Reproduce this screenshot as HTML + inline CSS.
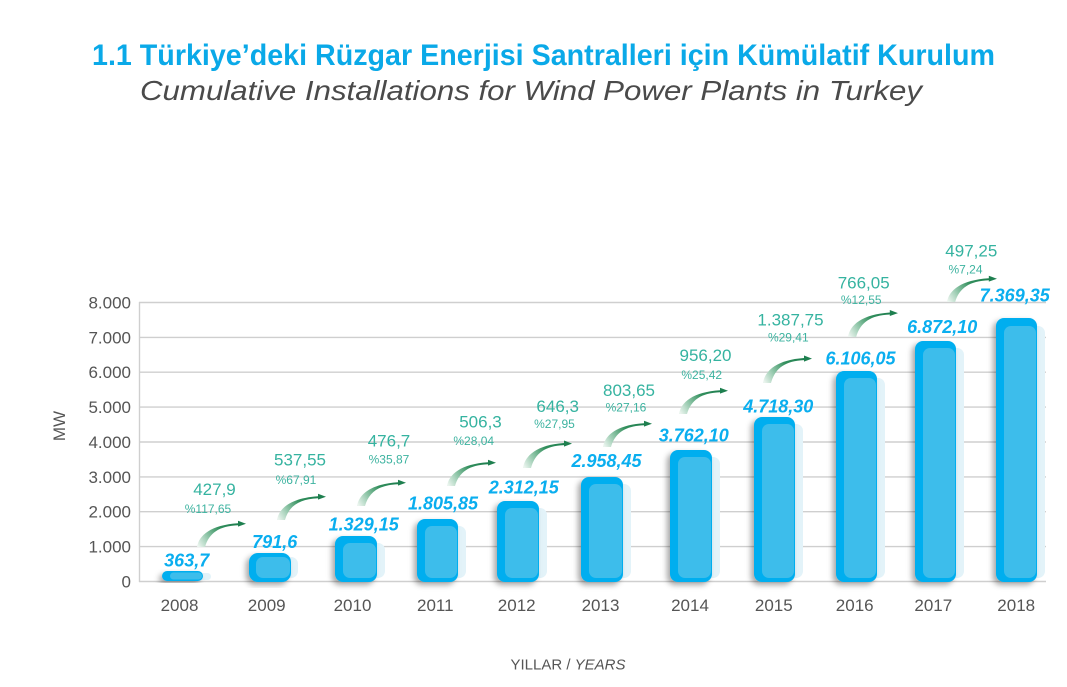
<!DOCTYPE html>
<html><head><meta charset="utf-8"><style>
html,body{margin:0;padding:0;background:#fff;}
svg{display:block;}
text{font-family:"Liberation Sans",sans-serif;}
</style></head><body>
<svg width="1067" height="687" viewBox="0 0 1067 687" xmlns="http://www.w3.org/2000/svg">
<defs>
<filter id="sh" x="-40%" y="-20%" width="160%" height="140%">
<feDropShadow dx="-3" dy="3" stdDeviation="3" flood-color="#000" flood-opacity="0.35"/>
</filter>
<linearGradient id="ag" gradientUnits="userSpaceOnUse" x1="2" y1="0" x2="40" y2="-24">
<stop offset="0" stop-color="#eaf4ee"/>
<stop offset="0.3" stop-color="#8cc4a6"/>
<stop offset="0.6" stop-color="#34905e"/>
<stop offset="1" stop-color="#1e7f4f"/>
</linearGradient>
<path id="arr" d="M0,0 C2,-12 14,-22 41,-23.8 L41,-26.2 L49,-23.2 L41,-20.4 L41,-21.8 C22,-21 12,-14 8,0 Z" fill="url(#ag)"/>
</defs>

<!-- Titles -->
<text x="92" y="65" font-size="30" font-weight="bold" fill="#0aa9e8" textLength="903" lengthAdjust="spacingAndGlyphs">1.1 Türkiye’deki Rüzgar Enerjisi Santralleri için Kümülatif Kurulum</text>
<text x="140" y="100" font-size="28" font-style="italic" fill="#4a4a4a" textLength="782" lengthAdjust="spacingAndGlyphs">Cumulative Installations for Wind Power Plants in Turkey</text>

<!-- Grid -->
<g stroke="#cfcfcf" stroke-width="1.4">
<line x1="139" y1="302.5" x2="1046" y2="302.5"/>
<line x1="139" y1="337.4" x2="1046" y2="337.4"/>
<line x1="139" y1="372.2" x2="1046" y2="372.2"/>
<line x1="139" y1="407.1" x2="1046" y2="407.1"/>
<line x1="139" y1="442" x2="1046" y2="442"/>
<line x1="139" y1="476.9" x2="1046" y2="476.9"/>
<line x1="139" y1="511.7" x2="1046" y2="511.7"/>
<line x1="139" y1="546.6" x2="1046" y2="546.6"/>
<line x1="139" y1="581.5" x2="1046" y2="581.5"/>
<line x1="139.5" y1="302" x2="139.5" y2="582"/>
</g>

<!-- Y labels -->
<g font-size="17" fill="#555" text-anchor="end">
<text x="131" y="308.5">8.000</text>
<text x="131" y="343.4">7.000</text>
<text x="131" y="378.2">6.000</text>
<text x="131" y="413.1">5.000</text>
<text x="131" y="448">4.000</text>
<text x="131" y="482.9">3.000</text>
<text x="131" y="517.7">2.000</text>
<text x="131" y="552.6">1.000</text>
<text x="131" y="587.5">0</text>
</g>
<text x="71" y="432" font-size="17" fill="#555" text-anchor="middle" transform="rotate(-90 65 432)">MW</text>

<!-- Bars -->
<g>
<!-- 2008 -->
<rect x="170" y="573" width="41" height="7" rx="3.5" fill="#e3f3f9"/>
<rect x="162" y="571" width="41" height="10" rx="5" fill="#00aeef" filter="url(#sh)"/>
<rect x="170" y="572.5" width="32" height="7" rx="3.5" fill="#3dbdeb"/>
<!-- 2009 -->
<rect x="256" y="557" width="42" height="21" rx="7" fill="#e3f3f9"/>
<rect x="249" y="553" width="42" height="29" rx="9" fill="#00aeef" filter="url(#sh)"/>
<rect x="256" y="557" width="34" height="21" rx="7" fill="#3dbdeb"/>
<!-- 2010 -->
<rect x="343" y="543" width="42" height="35" rx="7" fill="#e3f3f9"/>
<rect x="335" y="536" width="42" height="46" rx="8" fill="#00aeef" filter="url(#sh)"/>
<rect x="343" y="543" width="33" height="35" rx="7" fill="#3dbdeb"/>
<!-- 2011 -->
<rect x="425" y="526" width="41" height="52" rx="7" fill="#e3f3f9"/>
<rect x="417" y="519" width="41" height="63" rx="8" fill="#00aeef" filter="url(#sh)"/>
<rect x="425" y="526" width="32" height="52" rx="7" fill="#3dbdeb"/>
<!-- 2012 -->
<rect x="505" y="508" width="42" height="70" rx="7" fill="#e3f3f9"/>
<rect x="497" y="501" width="42" height="81" rx="8" fill="#00aeef" filter="url(#sh)"/>
<rect x="505" y="508" width="33" height="70" rx="7" fill="#3dbdeb"/>
<!-- 2013 -->
<rect x="589" y="484" width="42" height="94" rx="7" fill="#e3f3f9"/>
<rect x="581" y="477" width="42" height="105" rx="8" fill="#00aeef" filter="url(#sh)"/>
<rect x="589" y="484" width="33" height="94" rx="7" fill="#3dbdeb"/>
<!-- 2014 -->
<rect x="678" y="457" width="42" height="121" rx="7" fill="#e3f3f9"/>
<rect x="670" y="450" width="42" height="132" rx="8" fill="#00aeef" filter="url(#sh)"/>
<rect x="678" y="457" width="33" height="121" rx="7" fill="#3dbdeb"/>
<!-- 2015 -->
<rect x="762" y="424" width="41" height="154" rx="7" fill="#e3f3f9"/>
<rect x="754" y="417" width="41" height="165" rx="8" fill="#00aeef" filter="url(#sh)"/>
<rect x="762" y="424" width="32" height="154" rx="7" fill="#3dbdeb"/>
<!-- 2016 -->
<rect x="844" y="378" width="41" height="200" rx="7" fill="#e3f3f9"/>
<rect x="836" y="371" width="41" height="211" rx="8" fill="#00aeef" filter="url(#sh)"/>
<rect x="844" y="378" width="32" height="200" rx="7" fill="#3dbdeb"/>
<!-- 2017 -->
<rect x="923" y="348" width="41" height="230" rx="7" fill="#e3f3f9"/>
<rect x="915" y="341" width="41" height="241" rx="8" fill="#00aeef" filter="url(#sh)"/>
<rect x="923" y="348" width="32" height="230" rx="7" fill="#3dbdeb"/>
<!-- 2018 -->
<rect x="1004" y="326" width="41" height="252" rx="7" fill="#e3f3f9"/>
<rect x="996" y="318" width="41" height="264" rx="8" fill="#00aeef" filter="url(#sh)"/>
<rect x="1004" y="326" width="32" height="252" rx="7" fill="#3dbdeb"/>
</g>

<!-- Arrows -->
<use href="#arr" transform="translate(197,547)"/>
<use href="#arr" transform="translate(277,520)"/>
<use href="#arr" transform="translate(357,506)"/>
<use href="#arr" transform="translate(447,486)"/>
<use href="#arr" transform="translate(523,468) scale(1,1.05)"/>
<use href="#arr" transform="translate(603,447)"/>
<use href="#arr" transform="translate(679,414)"/>
<use href="#arr" transform="translate(763,383) scale(1,1.05)"/>
<use href="#arr" transform="translate(848,337) scale(1.02,1.03)"/>
<use href="#arr" transform="translate(947,302) scale(1.02,1)"/>

<!-- Increment labels -->
<g font-size="17" fill="#35b3a0" text-anchor="middle">
<text x="214.5" y="495">427,9</text>
<text x="300" y="465.5">537,55</text>
<text x="389" y="446.7">476,7</text>
<text x="480.5" y="427.7">506,3</text>
<text x="557.7" y="412">646,3</text>
<text x="629" y="396">803,65</text>
<text x="705.5" y="361">956,20</text>
<text x="790.5" y="325.3">1.387,75</text>
<text x="863.7" y="288.7">766,05</text>
<text x="971.3" y="256.7">497,25</text>
</g>
<g font-size="12" fill="#3db3a0" text-anchor="middle">
<text x="208" y="513.2">%117,65</text>
<text x="296" y="484.2">%67,91</text>
<text x="389" y="463.5">%35,87</text>
<text x="473.7" y="444.9">%28,04</text>
<text x="554.5" y="428.2">%27,95</text>
<text x="626" y="411.5">%27,16</text>
<text x="701.7" y="379.2">%25,42</text>
<text x="788.3" y="341.5">%29,41</text>
<text x="861.2" y="304.2">%12,55</text>
<text x="965.5" y="273.5">%7,24</text>
</g>

<!-- Value labels -->
<g font-size="18" font-weight="bold" font-style="italic" fill="#0aaeef" text-anchor="middle">
<text x="186.7" y="566.3">363,7</text>
<text x="274.7" y="548">791,6</text>
<text x="363.7" y="530.3">1.329,15</text>
<text x="443" y="509.6">1.805,85</text>
<text x="523.8" y="493.6">2.312,15</text>
<text x="606.5" y="467">2.958,45</text>
<text x="693.8" y="441.3">3.762,10</text>
<text x="778.3" y="412.3">4.718,30</text>
<text x="860.5" y="364.6">6.106,05</text>
<text x="942.2" y="333">6.872,10</text>
<text x="1014.7" y="301.3">7.369,35</text>
</g>

<!-- Year labels -->
<g font-size="17" fill="#555" text-anchor="middle">
<text x="179.5" y="611">2008</text>
<text x="266.7" y="611">2009</text>
<text x="352.5" y="611">2010</text>
<text x="435.3" y="611">2011</text>
<text x="516.7" y="611">2012</text>
<text x="600.5" y="611">2013</text>
<text x="690" y="611">2014</text>
<text x="773.8" y="611">2015</text>
<text x="854.7" y="611">2016</text>
<text x="933.3" y="611">2017</text>
<text x="1016.2" y="611">2018</text>
</g>

<text x="568" y="669.5" font-size="15" fill="#555" text-anchor="middle">YILLAR / <tspan font-style="italic">YEARS</tspan></text>
</svg>
</body></html>
